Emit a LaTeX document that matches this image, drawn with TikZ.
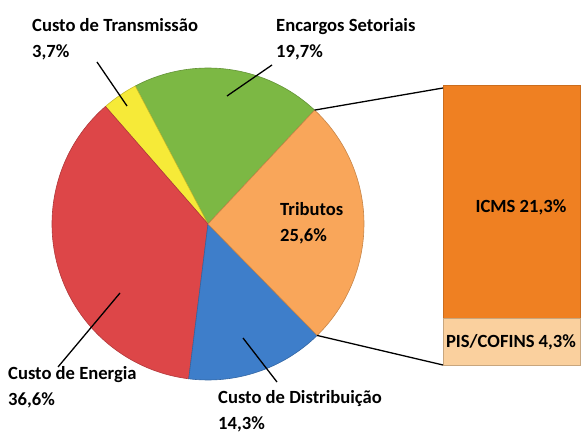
\documentclass[tikz,border=0pt]{standalone}
\usepackage{fontspec}
\setmainfont{Carlito}
\definecolor{cgreen}{RGB}{124,184,68}
\definecolor{cred}{RGB}{221,70,72}
\definecolor{cyellow}{RGB}{246,234,56}
\definecolor{cblue}{RGB}{62,126,202}
\definecolor{corange}{RGB}{249,166,90}
\definecolor{cicms}{RGB}{239,128,34}
\definecolor{cpis}{RGB}{250,208,158}
\begin{document}
\begin{tikzpicture}[x=1pt,y=1pt,
  lbl/.style={font=\fontsize{18.6}{26}\selectfont\bfseries, inner sep=0pt, align=left, anchor=west},
  leader/.style={draw=black, line width=1.3pt},
  slice/.style={line width=0.6pt}]
\useasboundingbox (0,0) rectangle (581,434);
\coordinate (c) at (208,210);
\def\R{156}
% slices
\filldraw[slice, fill=cgreen, draw=cgreen!80!black] (c) -- ([shift={(c)}]46.9:\R) arc[start angle=46.9, end angle=117.8, radius=\R] -- cycle;
\filldraw[slice, fill=cyellow, draw=cyellow!80!black] (c) -- ([shift={(c)}]117.8:\R) arc[start angle=117.8, end angle=131.1, radius=\R] -- cycle;
\filldraw[slice, fill=cred, draw=cred!80!black] (c) -- ([shift={(c)}]131.1:\R) arc[start angle=131.1, end angle=262.9, radius=\R] -- cycle;
\filldraw[slice, fill=cblue, draw=cblue!80!black] (c) -- ([shift={(c)}]262.9:\R) arc[start angle=262.9, end angle=314.4, radius=\R] -- cycle;
\filldraw[slice, fill=corange, draw=corange!80!black] (c) -- ([shift={(c)}]314.4:\R) arc[start angle=314.4, end angle=406.9, radius=\R] -- cycle;
% bar
\filldraw[fill=cicms, draw=cicms!85!black, line width=0.6pt] (443,116) rectangle (580,349);
\filldraw[fill=cpis, draw=cpis!80!black, line width=0.6pt] (443,69) rectangle (580,116);
\node[font=\fontsize{18.6}{26}\selectfont\bfseries, inner sep=0pt] (icms) at (521,227) {ICMS 21,3\%};
\node[font=\fontsize{18.6}{26}\selectfont\bfseries, inner sep=0pt] (pis) at (511,92) {PIS/COFINS 4,3\%};
% connectors to bar
\coordinate (p1) at ([shift={(c)}]46.9:\R);
\coordinate (p2) at ([shift={(c)}]314.4:\R);
\coordinate (b1) at (443,346);
\coordinate (b2) at (443,69);
\draw[leader] (p1) -- (b1);
\draw[leader] (p2) -- (b2);
% labels
\node[lbl] (trans) at (32,395) {Custo de Transmissão\\3,7\%};
\node[lbl] (enc) at (276,395) {Encargos Setoriais\\19,7\%};
\node[lbl] (trib) at (280,210.5) {Tributos\\25,6\%};
\node[lbl] (ener) at (8,46.5) {Custo de Energia\\36,6\%};
\node[lbl] (dist) at (218,23) {Custo de Distribuição\\14,3\%};
% leaders
\coordinate (t1) at (97,372); \coordinate (t2) at (127,328);
\coordinate (e1) at (272,369); \coordinate (e2) at (227,338);
\coordinate (g1) at (120,141); \coordinate (g2) at (58,67);
\coordinate (d1) at (243,96); \coordinate (d2) at (277,52);
\draw[leader] (t1) -- (t2);
\draw[leader] (e1) -- (e2);
\draw[leader] (g1) -- (g2);
\draw[leader] (d1) -- (d2);
\end{tikzpicture}
\end{document}
